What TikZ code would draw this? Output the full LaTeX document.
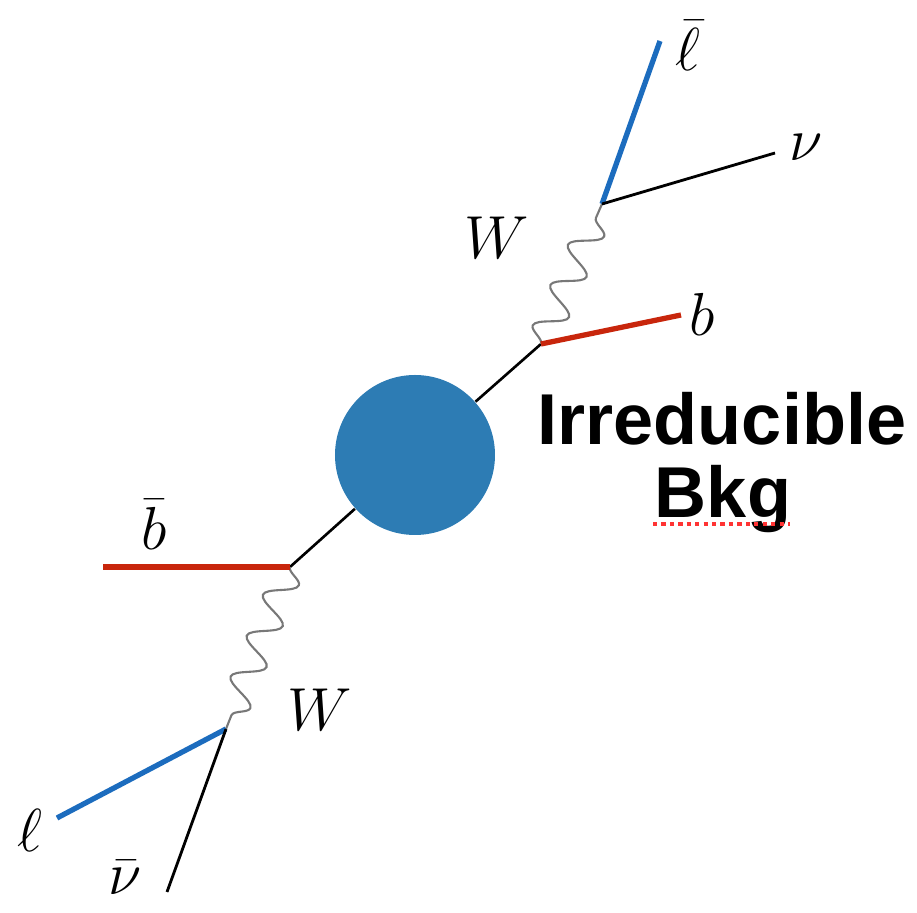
\documentclass[tikz,border=0pt]{standalone}
\usepackage{amsmath,amssymb}
\usepackage{fontspec}
\usepackage{tikz}
\usetikzlibrary{decorations.pathmorphing,positioning,calc}
\newfontfamily\labelfont{Liberation Sans}
\definecolor{blobcol}{RGB}{45,124,180}
\definecolor{lepcol}{RGB}{28,108,190}
\definecolor{bcol}{RGB}{200,38,12}
\definecolor{wcol}{RGB}{120,120,120}
\tikzset{
  % propagator line
  prop/.style={black, line width=0.75pt},
  % b quark leg
  bleg/.style={bcol, line width=1.5pt},
  % lepton leg
  lleg/.style={lepcol, line width=1.5pt},
  % neutrino leg
  nleg/.style={black, line width=0.8pt},
  % W boson
  wboson/.style={wcol, line width=0.6pt, decorate,
    decoration={snake, amplitude=1.5mm, segment length=4.4mm}},
  % particle label
  plabel/.style={font=\fontsize{17.5}{20}\selectfont, inner sep=1pt},
  % blob
  blob/.style={circle, fill=blobcol, minimum size=16mm, inner sep=0pt},
}

\begin{document}
\begin{tikzpicture}
  \useasboundingbox (0,0) rectangle (9.17,-9.13);

  % ── blob ──
  \node[blob] (bl) at (4.15,-4.55) {};

  % ── vertices ──
  \coordinate (vt) at (5.41,-3.44);
  \coordinate (wt) at (6.02,-2.04);
  \coordinate (vb) at (2.90,-5.67);
  \coordinate (wb) at (2.26,-7.29);

  % ── leg ends ──
  \coordinate (bt) at (6.81,-3.15);
  \coordinate (lt) at (6.60,-0.41);
  \coordinate (nt) at (7.75,-1.53);
  \coordinate (bb) at (1.03,-5.67);
  \coordinate (lb) at (0.57,-8.18);
  \coordinate (nb) at (1.67,-8.92);

  % ── top side ──
  \draw[prop] (bl) -- (vt);
  \draw[wboson] (vt) -- (wt);
  \draw[bleg] (vt) -- (bt);
  \draw[lleg] (wt) -- (lt);
  \draw[nleg] (wt) -- (nt);

  % ── bottom side ──
  \draw[prop] (bl) -- (vb);
  \draw[wboson] (vb) -- (wb);
  \draw[bleg] (vb) -- (bb);
  \draw[lleg] (wb) -- (lb);
  \draw[nleg] (wb) -- (nb);

  % ── labels ──
  \node[plabel] (lbt) at (7.02,-3.14) {$b$};
  \node[plabel] (lwt) at (4.97,-2.38) {$W$};
  \node[plabel] (llt) at (6.88,-0.46) {$\bar\ell$};
  \node[plabel] (lnt) at (8.06,-1.47) {$\nu$};
  \node[plabel] (lbb) at (1.54,-5.25) {$\bar b$};
  \node[plabel] (lwb) at (3.20,-7.10) {$W$};
  \node[plabel] (llb) at (0.30,-8.30) {$\ell$};
  \node[plabel] (lnb) at (1.25,-8.78) {$\bar\nu$};

  % ── caption text ──
  \node[font=\labelfont\bfseries\fontsize{20.5}{24}\selectfont, anchor=base] (irr) at (7.22,-4.45) {Irreducible};
  \node[font=\labelfont\bfseries\fontsize{20.5}{24}\selectfont, anchor=base] (bkg) at (7.23,-5.18) {Bkg};
  \draw[red!80, line width=1.2pt, dash pattern=on 1.2pt off 1.2pt] (6.53,-5.24) -- (7.90,-5.24);

\end{tikzpicture}
\end{document}
